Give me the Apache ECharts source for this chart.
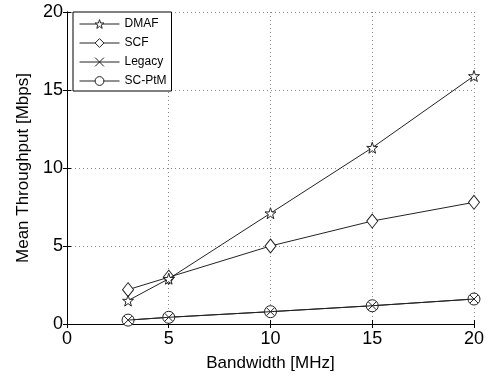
<!DOCTYPE html>
<html><head><meta charset="utf-8">
<script src="https://cdn.jsdelivr.net/npm/echarts@6/dist/echarts.min.js"></script>
<style>html,body{margin:0;padding:0;background:#fff}#c{width:487px;height:377px}</style>
</head><body><div id="c"></div>
<script>
const bandwidth = [3, 5, 10, 15, 20];
const dmaf = [1.5, 2.9, 7.1, 11.3, 15.9];
const scf = [2.2, 3.0, 5.0, 6.6, 7.8];
const legacy = [0.25, 0.43, 0.79, 1.17, 1.6];
const scptm = [0.25, 0.43, 0.79, 1.17, 1.6];
const xTicks = [0, 5, 10, 15, 20];
const yTicks = [0, 5, 10, 15, 20];

const starPath = 'path://M50,0 L61.8,35.1 L98.1,34.5 L69,56.2 L79.4,90.5 L50,70 L20.6,90.5 L31,56.2 L1.9,34.5 L38.2,35.1 Z';
const crossPath = 'path://M0,0 L10,10 M10,0 L0,10';

function pts(v){ return bandwidth.map((x,i)=>[x, v[i]]); }
function ser(name, v, symbol, size, fill, z){
  return {
    name, type:'line', data: pts(v), symbol, symbolSize: size,
    showAllSymbol: true, z,
    lineStyle:{color:'#222', width:1},
    itemStyle:{color: fill, borderColor:'#222', borderWidth:1},
    emphasis:{disabled:true}, animation:false
  };
}
const chart = echarts.init(document.getElementById('c'));
const font = 'Arial, Liberation Sans, sans-serif';
const axisFont = {fontFamily:font, fontSize:17, color:'#000'};
const tickFont = {fontFamily:font, fontSize:18, color:'#000'};
const mirror = {
  axisLine:{show:true, lineStyle:{color:'#000'}},
  axisTick:{show:true, inside:true, length:4, lineStyle:{color:'#000'}},
  axisLabel:{show:false}, splitLine:{show:false}
};
chart.setOption({
  animation:false,
  grid:{left:67, right:12, top:12, bottom:53, show:false},
  legend:{
    orient:'vertical', left:73, top:12, itemWidth:40, itemHeight:11, itemGap:7,
    padding:[6,5,4,6],
    borderColor:'#000', borderWidth:1, backgroundColor:'#fff',
    textStyle:{fontFamily:font, fontSize:12, color:'#000'},
    lineStyle:{width:1},
    itemStyle:{borderWidth:1},
    data:['DMAF','SCF','Legacy','SC-PtM']
  },
  xAxis:[{
    type:'value', min:0, max:20, interval:5,
    name:'Bandwidth [MHz]', nameLocation:'middle', nameGap:31, nameTextStyle:axisFont,
    axisLine:{show:true, lineStyle:{color:'#000'}},
    axisTick:{inside:true, length:4, lineStyle:{color:'#000'}},
    axisLabel:Object.assign({margin:6, formatter:v=>xTicks.includes(v)?String(v):''}, tickFont),
    splitLine:{show:true, lineStyle:{color:'#888', type:[1,3], width:1}}
  }, Object.assign({type:'value', min:0, max:20, interval:5, position:'top'}, mirror)],
  yAxis:[{
    type:'value', min:0, max:20, interval:5,
    name:'Mean Throughput [Mbps]', nameLocation:'middle', nameGap:32, nameTextStyle:axisFont,
    axisLine:{show:true, lineStyle:{color:'#000'}},
    axisTick:{inside:true, length:4, lineStyle:{color:'#000'}},
    axisLabel:Object.assign({margin:4, formatter:v=>yTicks.includes(v)?String(v):''}, tickFont),
    splitLine:{show:true, lineStyle:{color:'#888', type:[1,3], width:1}}
  }, Object.assign({type:'value', min:0, max:20, interval:5, position:'right'}, mirror)],
  series:[
    ser('DMAF', dmaf, starPath, 11, '#fff', 5),
    ser('SCF', scf, 'diamond', [11,14], '#fff', 4),
    ser('Legacy', legacy, crossPath, 8, '#222', 3),
    ser('SC-PtM', scptm, 'circle', 12, '#fff', 2)
  ]
});
</script></body></html>
